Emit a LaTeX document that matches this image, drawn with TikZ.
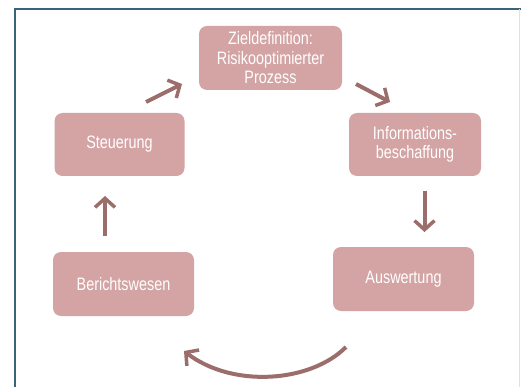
\documentclass[tikz,border=0pt]{standalone}
\usepackage{fontspec}
\setmainfont{Liberation Sans}[FakeStretch=0.8]
\usetikzlibrary{arrows.meta}
\definecolor{boxfill}{HTML}{D4A3A4}
\definecolor{arrcol}{HTML}{9B6E6C}
\definecolor{framecol}{HTML}{3C6478}
\tikzset{
  procbox/.style={rectangle, rounded corners=8pt, fill=boxfill, text=white,
    align=center, inner sep=0pt,
    font=\fontsize{18}{19.5}\selectfont},
  arr/.style={draw=arrcol, line width=4pt,
    -{Straight Barb[length=9pt,width=20pt,line width=3.5pt]}},
}
\begin{document}
\begin{tikzpicture}[x=1pt,y=-1pt]
\useasboundingbox (0,0) rectangle (521,387);
% frame
\draw[framecol, line width=2pt] (15,387) -- (15,9) -- (521,9);
\draw[boxfill!40, line width=1pt] (519,9) -- (519,387);
% boxes
\node[procbox, minimum width=143pt, minimum height=64pt] (ziel) at (270.5,58) {Zieldefinition:\\Risikooptimierter\\Prozess};
\node[procbox, minimum width=130pt, minimum height=63pt] (steu) at (119.5,144.5) {Steuerung};
\node[procbox, minimum width=132pt, minimum height=63pt] (info) at (415,144.5) {Informations-\\beschaffung};
\node[procbox, minimum width=141pt, minimum height=64pt] (ber) at (123.5,284) {Berichtswesen};
\node[procbox, minimum width=141pt, minimum height=64pt] (ausw) at (403.5,279) {Auswertung};
% connector end points
\coordinate (s1) at (146,102);
\coordinate (s2) at (182,84);
\coordinate (z1) at (356,84);
\coordinate (z2) at (390,102);
\coordinate (i1) at (424.5,191);
\coordinate (i2) at (424.5,232);
\coordinate (a1) at (346,347);
\coordinate (a2) at (184,351);
\coordinate (b1) at (105,236);
\coordinate (b2) at (105,196);
% arrows
\draw[arr] (s1) -- (s2);
\draw[arr] (z1) -- (z2);
\draw[arr] (i1) -- (i2);
\draw[arr] (a1) .. controls (310,383) and (232,388) .. (a2);
\draw[arr] (b1) -- (b2);
\end{tikzpicture}
\end{document}
